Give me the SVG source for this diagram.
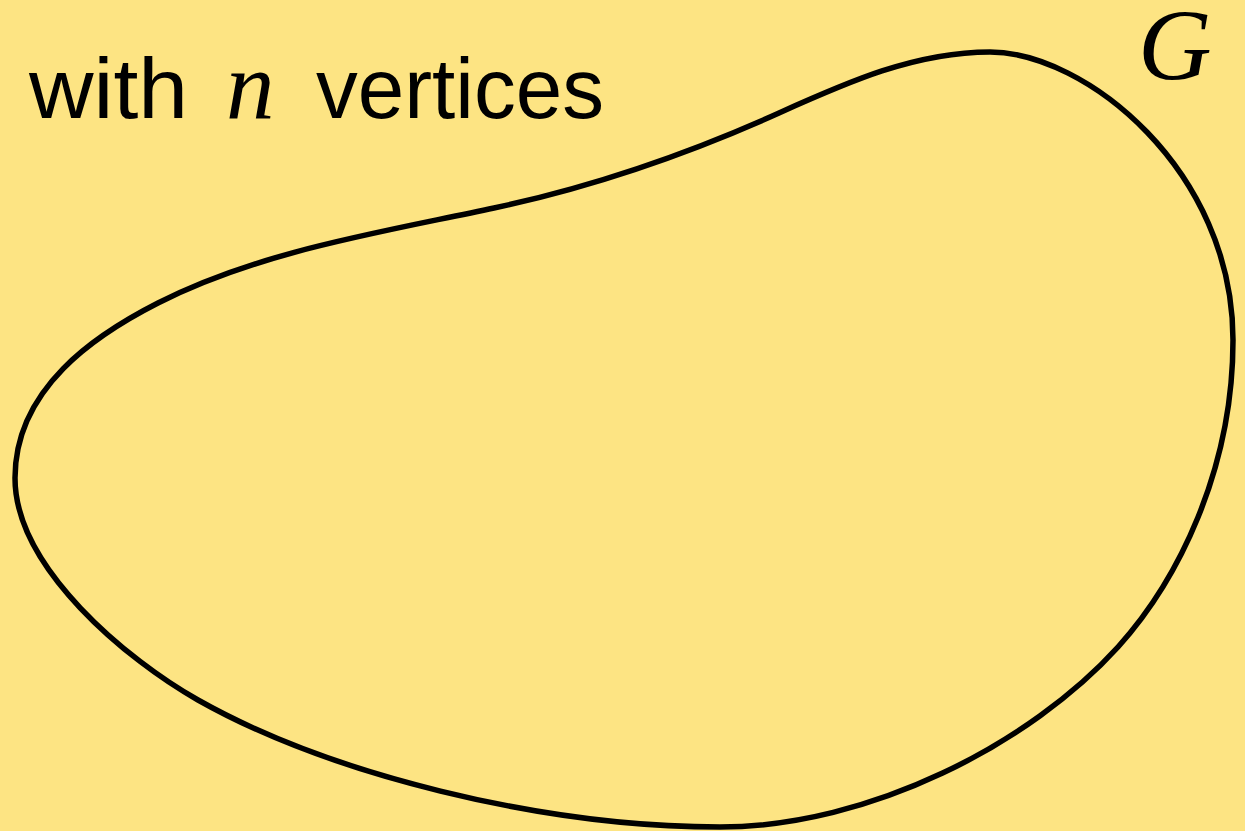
<svg xmlns="http://www.w3.org/2000/svg" width="1245" height="831" viewBox="0 0 1245 831">
<style>
.sans{font-family:"Liberation Sans","DejaVu Sans",sans-serif;fill:#000}
.math{font-family:"Liberation Serif","DejaVu Serif",serif;font-style:italic;fill:#000}
.blob{fill:none;stroke:#000;stroke-width:5.5;stroke-linejoin:round}
</style>
<rect x="0" y="0" width="1245" height="831" fill="#FDE483"/>
<g id="G">
<path class="blob" d="M 15 478 C 15 388, 96 334.5, 158 303 C 261 250.8, 380.6 232.4, 494 208 C 591.8 187, 688 154, 779 113 C 847.3 82.3, 915 52, 990 52 C 1085 52, 1233 170, 1233 340 C 1233 470, 1178 580.4, 1118 647 C 1030.9 743.2, 870 827, 720 827 C 540 827, 328.5 773.5, 198 700 C 128.4 660.8, 15 568, 15 478 Z"/>
<text class="math" x="1138" y="80" font-size="102">G</text>
</g>
<g id="label">
<text class="sans" x="29" y="118" font-size="86" textLength="159" lengthAdjust="spacingAndGlyphs">with</text>
<text class="math" x="226" y="118" font-size="97">n</text>
<text class="sans" x="316" y="118" font-size="86" textLength="288" lengthAdjust="spacingAndGlyphs">vertices</text>
</g>
</svg>
